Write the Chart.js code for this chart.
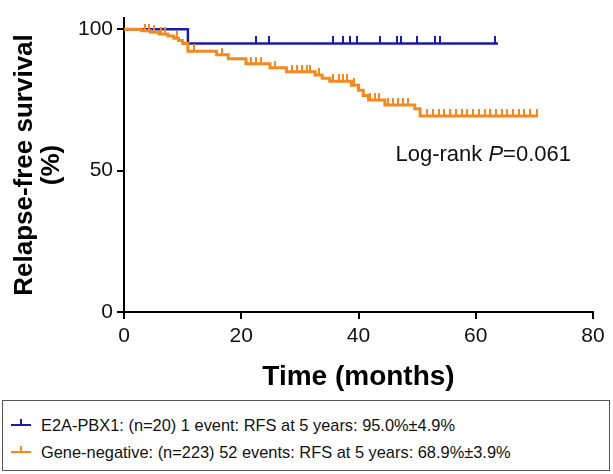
<!DOCTYPE html>
<html><head><meta charset="utf-8">
<script src="https://cdn.jsdelivr.net/npm/chart.js@4/dist/chart.umd.min.js"></script>
<style>
html,body{margin:0;padding:0;background:#fff;}
#wrap{position:relative;width:613px;height:474px;overflow:hidden;}
#c{position:absolute;left:0;top:0;}
#legend{position:absolute;left:2px;top:400px;width:608px;height:71px;border:1.5px solid #555;box-sizing:border-box;font-family:"Liberation Sans",Arial,sans-serif;font-size:16.4px;color:#111;}
.row{position:absolute;left:8px;height:20px;line-height:20px;display:flex;align-items:center;white-space:nowrap;}
.mk{position:relative;width:20px;height:2px;margin-right:10px;}
.mk i{position:absolute;left:9px;top:-5px;width:2px;height:5px;}
</style>
</head><body>
<div id="wrap">
<canvas id="c" width="613" height="400"></canvas>
<div id="legend">
 <div class="row" style="top:13.5px"><span class="mk" style="background:#1c1ca8"><i style="background:#1c1ca8"></i></span>E2A-PBX1: (n=20) 1 event: RFS at 5 years: 95.0%±4.9%</div>
 <div class="row" style="top:40.5px"><span class="mk" style="background:#f5891f"><i style="background:#f5891f"></i></span>Gene-negative: (n=223) 52 events: RFS at 5 years: 68.9%±3.9%</div>
</div>
</div>
<script>
// ---- data ----
const xTicks = [0, 20, 40, 60, 80];
const yTicks = [0, 50, 100];

const blueTimes = [0, 10.9, 63.8];
const blueSurv  = [100, 95, 95];
const blueCensor = [22.6, 24.8, 35.6, 37.4, 38.6, 39.8, 43.7, 46.6, 47.3, 50.0, 53.0, 53.9, 63.3];

const orangeTimes = [0, 3.0, 4.5, 6.0, 7.5, 8.5, 9.3, 10.0, 10.9, 15.8, 17.8, 20.8, 24.9, 27.7, 32.6, 33.8, 35.1, 38.8, 40.0, 40.8, 41.7, 44.5, 49.6, 50.5, 70.6];
const orangeSurv  = [100, 99.5, 99.0, 98.3, 97.6, 96.8, 96.0, 95.0, 92.2, 91.0, 89.6, 87.8, 86.4, 85.0, 83.8, 82.7, 81.6, 80.2, 78.4, 76.6, 75.0, 73.2, 71.9, 69.3, 69.3];
const orangeCensor = [3.5, 4.2, 5.2, 6.3, 7.0, 9.0, 12.0, 16.8, 21.6, 22.5, 23.4, 25.8, 28.6, 29.5, 30.3, 31.2, 31.8, 33.2, 35.7, 36.6, 37.4, 38.0, 39.3, 42.0, 42.8, 43.5, 45.1, 45.9, 46.8, 47.6, 48.5,
  51.7, 52.7, 53.7, 54.6, 55.6, 56.6, 57.6, 58.5, 59.5, 60.5, 61.5, 62.4, 63.4, 64.4, 65.4, 66.3, 67.3, 68.3, 69.3, 70.4];

const BLUE = '#1c1ca8', ORANGE = '#f5891f';
const FAM = '"Liberation Sans", Arial, sans-serif';

function steps(ts, ss){ return ts.map((t,i)=>({x:t, y:ss[i]})); }
function survAt(ts, ss, t){ let v = ss[0]; for(let i=0;i<ts.length;i++){ if(ts[i] <= t) v = ss[i]; } return v; }
function censorPts(c, ts, ss){ return c.map(t=>({x:t, y:survAt(ts, ss, t)})); }
function tick(color){
  const cv = document.createElement('canvas'); cv.width = 2; cv.height = 14;
  const g = cv.getContext('2d'); g.fillStyle = color; g.fillRect(0,0,2,7); return cv;
}

const logRank = {
  id:'logRank',
  afterDatasetsDraw(chart){
    const {ctx, scales:{x,y}} = chart;
    const px = x.getPixelForValue(46.3), py = y.getPixelForValue(55.5);
    ctx.save(); ctx.fillStyle = '#111'; ctx.textBaseline = 'middle'; ctx.textAlign = 'left';
    const f = '22px ' + FAM, fi = 'italic 22px ' + FAM;
    let cx = px;
    ctx.font = f; ctx.fillText('Log-rank ', cx, py); cx += ctx.measureText('Log-rank ').width;
    ctx.font = fi; ctx.fillText('P', cx, py); cx += ctx.measureText('P').width;
    ctx.font = f; ctx.fillText('=0.061', cx, py);
    ctx.restore();
  }
};

new Chart(document.getElementById('c'), {
  type:'line',
  data:{datasets:[
    {data:steps(orangeTimes, orangeSurv), stepped:'before', borderColor:ORANGE, borderWidth:3, pointRadius:0, fill:false},
    {data:censorPts(orangeCensor, orangeTimes, orangeSurv), showLine:false, pointStyle:tick(ORANGE), pointRadius:3},
    {data:steps(blueTimes, blueSurv), stepped:'before', borderColor:BLUE, borderWidth:2.5, pointRadius:0, fill:false},
    {data:censorPts(blueCensor, blueTimes, blueSurv), showLine:false, pointStyle:tick(BLUE), pointRadius:3}
  ]},
  options:{
    responsive:false, animation:false,
    layout:{padding:{left:0, right:20, top:18, bottom:6}},
    plugins:{legend:{display:false}, tooltip:{enabled:false}},
    scales:{
      x:{type:'linear', min:0, max:80,
        afterBuildTicks:s=>{s.ticks = xTicks.map(v=>({value:v}));},
        afterFit:s=>{s.height = 82;},
        grid:{display:true, drawOnChartArea:false, drawTicks:true, tickLength:7, color:'#000', lineWidth:2},
        border:{display:true, color:'#000', width:2},
        ticks:{color:'#111', font:{size:21, family:FAM}, padding:5, maxRotation:0},
        title:{display:true, text:'Time (months)', color:'#000', font:{size:28, weight:'bold', family:FAM}, padding:0}
      },
      y:{type:'linear', min:0, max:104,
        afterBuildTicks:s=>{s.ticks = yTicks.map(v=>({value:v}));},
        afterFit:s=>{s.width = 124;},
        grid:{display:true, drawOnChartArea:false, drawTicks:true, tickLength:7, color:'#000', lineWidth:2},
        border:{display:true, color:'#000', width:2},
        ticks:{color:'#111', font:{size:21, family:FAM}, padding:4},
        title:{display:true, text:['Relapse-free survival','(%)'], color:'#000', font:{size:26, weight:'bold', family:FAM, lineHeight:1.05}, padding:{top:11, bottom:0}}
      }
    }
  },
  plugins:[logRank]
});
</script>
</body></html>
